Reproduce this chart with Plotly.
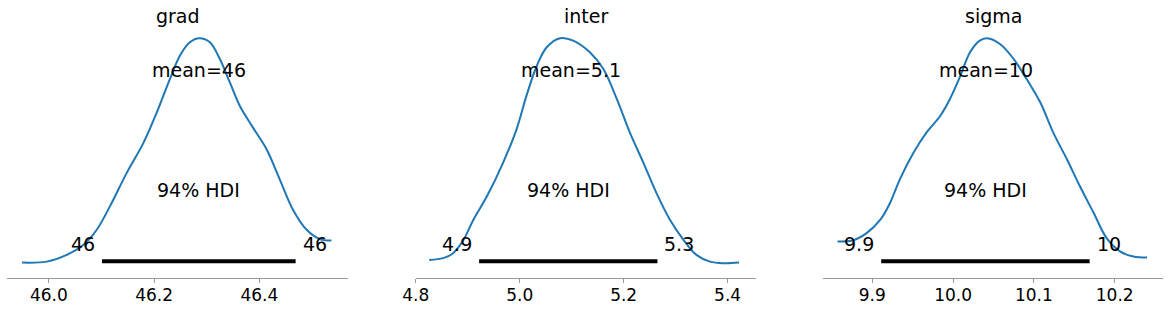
import plotly.graph_objects as go

# ---- data ----
var_names = ["grad", "inter", "sigma"]

grad_x = [45.949, 45.996, 46.034, 46.066, 46.091, 46.116, 46.148, 46.180, 46.205, 46.230,
          46.249, 46.268, 46.286, 46.306, 46.325, 46.344, 46.363, 46.388, 46.414, 46.439,
          46.464, 46.490, 46.515, 46.537]
grad_d = [0.059, 0.077, 0.198, 0.378, 0.648, 1.068, 1.669, 2.210, 2.750, 3.350,
          3.769, 4.011, 4.083, 4.011, 3.710, 3.290, 2.869, 2.480, 2.089, 1.549,
          1.009, 0.648, 0.481, 0.456]

inter_x = [4.826, 4.853, 4.872, 4.892, 4.911, 4.937, 4.968, 4.994, 5.013, 5.033,
           5.052, 5.078, 5.103, 5.135, 5.161, 5.187, 5.212, 5.238, 5.263, 5.289,
           5.315, 5.340, 5.366, 5.392, 5.422]
inter_d = [0.116, 0.149, 0.245, 0.502, 0.887, 1.337, 1.981, 2.624, 3.266, 3.845,
           4.200, 4.373, 4.327, 4.103, 3.781, 3.202, 2.560, 1.981, 1.403, 0.887,
           0.502, 0.212, 0.083, 0.052, 0.064]

sigma_x = [9.857, 9.875, 9.893, 9.910, 9.922, 9.934, 9.951, 9.967, 9.984, 9.996,
           10.009, 10.021, 10.033, 10.042, 10.058, 10.075, 10.091, 10.108, 10.124, 10.141,
           10.157, 10.174, 10.190, 10.207, 10.223, 10.240]
sigma_d = [0.624, 0.649, 0.839, 1.181, 1.609, 2.207, 2.892, 3.406, 3.832, 4.260,
           4.858, 5.459, 5.756, 5.818, 5.672, 5.287, 4.774, 4.175, 3.406, 2.720,
           2.035, 1.352, 0.711, 0.367, 0.239, 0.213]

means = [46.286, 5.098, 10.041]
mean_labels = ["46", "5.1", "10"]
hdi_low = [46.101, 4.922, 9.911]
hdi_high = [46.469, 5.265, 10.169]
hdi_low_labels = ["46", "4.9", "9.9"]
hdi_high_labels = ["46", "5.3", "10"]
hdi_prob_label = "94% HDI"

x_ranges = [[45.921, 46.568], [4.8, 5.454], [9.8394, 10.2594]]
tick_vals = [[46.0, 46.2, 46.4], [4.8, 5.0, 5.2, 5.4], [9.9, 10.0, 10.1, 10.2]]
tick_text = [["46.0", "46.2", "46.4"], ["4.8", "5.0", "5.2", "5.4"],
             ["9.9", "10.0", "10.1", "10.2"]]

xs = [grad_x, inter_x, sigma_x]
ds = [grad_d, inter_d, sigma_d]

# ---- layout ----
W, H = 1169, 310
domains_px = [(7.3, 347.7), (415.7, 755.7), (823.3, 1162.7)]
ytop_px, ybot_px = 28.0, 278.3
ydom = [1 - ybot_px / H, 1 - ytop_px / H]
FONT = "DejaVu Sans"
BLUE = "#1f77b4"

fig = go.Figure()
layout = dict(
    width=W, height=H,
    margin=dict(l=0, r=0, t=0, b=0, pad=0, autoexpand=False),
    paper_bgcolor="white", plot_bgcolor="white",
    showlegend=False,
    font=dict(family=FONT, color="black"),
)
annotations = []

for i in range(3):
    sfx = "" if i == 0 else str(i + 1)
    xa, ya = "x" + sfx, "y" + sfx
    peak = max(ds[i])
    ytop = 1.045 * peak
    fig.add_trace(go.Scatter(x=xs[i], y=ds[i], mode="lines",
                             line=dict(color=BLUE, width=2, shape="spline", smoothing=1.0),
                             xaxis=xa, yaxis=ya, hoverinfo="skip"))
    fig.add_trace(go.Scatter(x=[hdi_low[i], hdi_high[i]], y=[0.02 * peak, 0.02 * peak],
                             mode="lines", line=dict(color="black", width=4),
                             xaxis=xa, yaxis=ya, hoverinfo="skip"))
    d0, d1 = domains_px[i]
    layout["xaxis" + sfx] = dict(
        domain=[d0 / W, d1 / W], range=x_ranges[i], anchor=ya, automargin=False,
        showgrid=False, zeroline=False, showline=True, linecolor="#999999", linewidth=1,
        ticks="outside", ticklen=4, tickcolor="#999999", tickwidth=1,
        ticklabelstandoff=-3,
        tickvals=tick_vals[i], ticktext=tick_text[i],
        tickfont=dict(family=FONT, size=17, color="black"),
    )
    layout["yaxis" + sfx] = dict(
        domain=ydom, range=[-0.0544 * peak, ytop], anchor=xa, automargin=False,
        visible=False, showgrid=False, zeroline=False,
    )
    common = dict(xref=xa, yref=ya, showarrow=False,
                  font=dict(family=FONT, size=19, color="black"))
    # title
    annotations.append(dict(text=var_names[i], x=(d0 + d1) / 2 / W, y=1 - 16 / H,
                            xref="paper", yref="paper", showarrow=False,
                            xanchor="center", yanchor="middle",
                            font=dict(family=FONT, size=19, color="black")))
    # mean
    annotations.append(dict(text="mean=" + mean_labels[i], x=means[i], y=0.8 * ytop,
                            xanchor="center", yanchor="bottom", yshift=-7, **common))
    # HDI label
    annotations.append(dict(text=hdi_prob_label, x=(hdi_low[i] + hdi_high[i]) / 2,
                            y=0.3 * peak, xanchor="center", yanchor="bottom", yshift=-5,
                            **common))
    annotations.append(dict(text=hdi_low_labels[i], x=hdi_low[i], y=0.07 * peak,
                            xanchor="right", yanchor="bottom", xshift=-5, yshift=-7,
                            **common))
    annotations.append(dict(text=hdi_high_labels[i], x=hdi_high[i], y=0.07 * peak,
                            xanchor="left", yanchor="bottom", xshift=5, yshift=-7,
                            **common))

layout["annotations"] = annotations
fig.update_layout(**layout)
fig.write_html("out.html")
